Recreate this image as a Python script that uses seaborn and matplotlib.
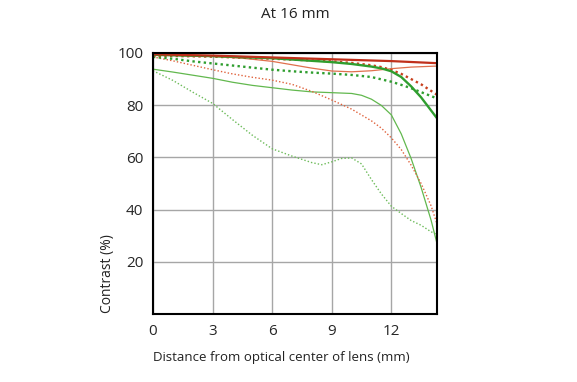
import matplotlib
matplotlib.use("Agg")
import matplotlib.pyplot as plt
import seaborn as sns
import pandas as pd

sns.set_theme(style="white")
plt.rcParams['font.family'] = ['Open Sans', 'DejaVu Sans']

title = "At 16 mm"
xlabel = "Distance from optical center of lens (mm)"
ylabel = "Contrast (%)"
xticks = [0, 3, 6, 9, 12]
yticks = [20, 40, 60, 80, 100]

# thick red solid
r_thick_s_x = [0, 3, 6, 9, 12, 14.3]
r_thick_s_y = [99.5, 99.0, 98.3, 97.6, 96.9, 96.1]
# thick red dotted
r_thick_m_x = [0, 3, 6, 9, 10, 11, 11.5, 12, 12.5, 13, 13.5, 14, 14.3]
r_thick_m_y = [99.0, 98.6, 97.8, 96.8, 96.2, 95.3, 94.6, 93.5, 92.0, 90.0, 88.0, 85.5, 84.0]
# thick green solid
g_thick_s_x = [0, 3, 6, 9, 10, 11, 11.5, 12, 12.5, 13, 13.5, 14, 14.3]
g_thick_s_y = [99.3, 98.8, 98.0, 96.5, 95.8, 94.8, 94.1, 93.0, 90.8, 87.2, 83.0, 78.0, 75.0]
# thick green dotted
g_thick_m_x = [0, 1, 2, 3, 4, 5, 6, 7, 8, 9, 10, 11, 12, 12.5, 13, 13.5, 14, 14.3]
g_thick_m_y = [98.5, 97.8, 96.8, 96.0, 95.2, 94.4, 93.6, 93.0, 92.5, 92.1, 91.6, 90.8,
               89.0, 87.8, 86.5, 85.0, 83.5, 82.6]
# thin red solid
r_thin_s_x = [0, 3, 4.5, 6, 7, 8, 9, 10, 11, 12, 13, 14.3]
r_thin_s_y = [99.2, 98.7, 98.0, 96.8, 95.5, 94.2, 93.1, 92.8, 93.2, 94.0, 94.6, 95.0]
# thin red dotted
r_thin_m_x = [0, 1, 2, 3, 4, 5, 6, 7, 8, 9, 10, 11, 11.5, 12, 12.5, 13, 13.5, 14, 14.3]
r_thin_m_y = [98.5, 97.0, 95.3, 93.6, 92.0, 90.7, 89.6, 88.0, 85.3, 82.0, 78.5, 74.0,
              71.2, 67.5, 63.0, 57.0, 50.0, 41.5, 34.5]
# thin green solid
g_thin_s_x = [0, 1, 2, 3, 4, 5, 6, 7, 8, 9, 10, 10.5, 11, 11.5, 12, 12.5, 13, 13.5,
              14, 14.3]
g_thin_s_y = [93.8, 92.7, 91.5, 90.3, 88.8, 87.6, 86.7, 85.8, 85.1, 84.8, 84.5, 83.8,
              82.3, 79.9, 76.3, 69.0, 59.5, 48.5, 36.0, 27.0]
# thin green dotted
g_thin_m_x = [0, 1, 2, 3, 4, 5, 6, 7, 8, 8.5, 9, 9.5, 10, 10.5, 11, 11.5, 12, 12.5,
              13, 13.5, 14, 14.3]
g_thin_m_y = [93.2, 89.5, 85.0, 80.7, 74.5, 68.5, 63.3, 60.5, 58.0, 57.2, 58.3, 59.6,
              59.8, 57.5, 51.5, 46.0, 41.3, 38.5, 35.8, 34.0, 31.5, 30.5]

series = [
    (g_thin_m_x, g_thin_m_y, "#6dbb5a", (0, (1, 1.5)), 1.0),
    (g_thin_s_x, g_thin_s_y, "#62b84e", "-", 0.9),
    (r_thin_m_x, r_thin_m_y, "#e0623c", (0, (1, 1.5)), 1.0),
    (r_thin_s_x, r_thin_s_y, "#e0704e", "-", 0.9),
    (g_thick_m_x, g_thick_m_y, "#2f9e2f", (0, (1, 1.4)), 1.7),
    (r_thick_m_x, r_thick_m_y, "#c8401e", (0, (1, 1.4)), 1.7),
    (g_thick_s_x, g_thick_s_y, "#2f9e2f", "-", 1.7),
    (r_thick_s_x, r_thick_s_y, "#c0301c", "-", 1.6),
]

fig = plt.figure(figsize=(5.77, 3.82), dpi=100)
ax = fig.add_axes([153/577, 1-314/382, (437-153)/577, (314-53)/382])

for xs, ys, c, ls, lw in series:
    df = pd.DataFrame({"x": xs, "y": ys})
    sns.lineplot(data=df, x="x", y="y", ax=ax, color=c, linestyle=ls, linewidth=lw,
                 estimator=None, sort=False)

ax.set_xlim(0, 14.3)
ax.set_ylim(0, 100)
ax.set_xticks(xticks)
ax.set_yticks(yticks)
ax.set_xticklabels([str(t) for t in xticks], fontsize=11)
ax.set_yticklabels([str(t) for t in yticks], fontsize=11)
ax.tick_params(length=0, pad=7)
ax.grid(True, color="#a6a6a6", linewidth=1.0)
ax.set_axisbelow(True)
for s in ax.spines.values():
    s.set_color("black")
    s.set_linewidth(1.5)
ax.set_xlabel("")
ax.set_ylabel("")

fig.text(295/577, 1-15/382, title, ha="center", va="center", fontsize=11, color="#222222")
fig.text(153/577, 1-357/382, xlabel, ha="left", va="center", fontsize=9.5, color="#222222")
fig.text(108/577, 1-274/382, ylabel, ha="center", va="center", rotation=90,
         fontsize=10, color="#222222")

fig.savefig("out.png", dpi=100)
